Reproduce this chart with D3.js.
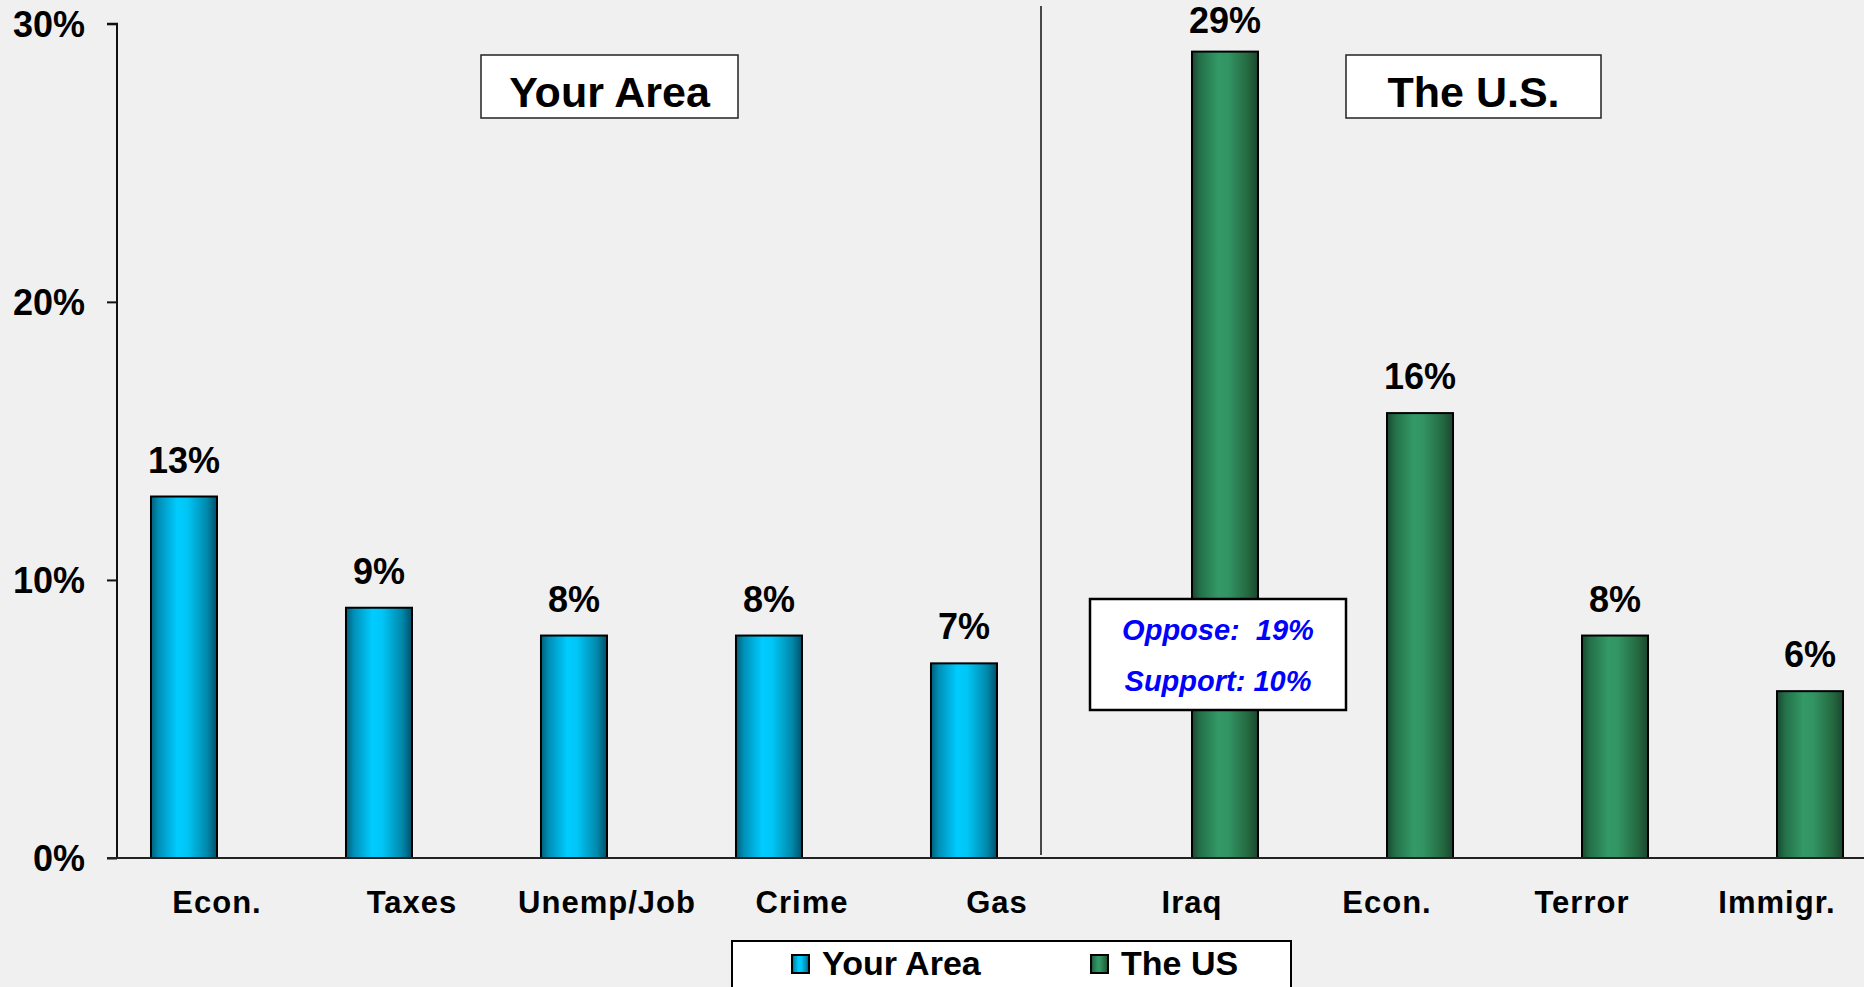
<!DOCTYPE html>
<html>
<head>
<meta charset="utf-8">
<script src="https://cdn.jsdelivr.net/npm/d3@7"></script>
<style>
html,body{margin:0;padding:0;background:#f0f0f0;}
svg{display:block;}
text{font-family:"Liberation Sans",Arial,sans-serif;font-weight:bold;}
</style>
</head>
<body>
<script>
const categories = ["Econ.","Taxes","Unemp/Job","Crime","Gas","Iraq","Econ.","Terror","Immigr."];
const seriesNames = ["Your Area","The US"];
const yourArea = [13,9,8,8,7,null,null,null,null];
const theUS = [null,null,null,null,null,29,16,8,6];
const yTicks = [0,10,20,30];
const panelTitles = ["Your Area","The U.S."];
const calloutLines = ["Oppose:  19%","Support: 10%"];

const W = 1864, H = 987;
const svg = d3.select("body").append("svg").attr("width",W).attr("height",H);
svg.append("rect").attr("width",W).attr("height",H).attr("fill","#f0f0f0");

const defs = svg.append("defs");
function grad(id, stops){
  const g = defs.append("linearGradient").attr("id",id).attr("x1","0").attr("x2","1").attr("y1","0").attr("y2","0");
  stops.forEach(s=>g.append("stop").attr("offset",s[0]).attr("stop-color",s[1]));
}
grad("gCyan",[[0,"#005f78"],[0.12,"#0090b8"],[0.4,"#00ccff"],[0.55,"#00c6f6"],[0.85,"#0088aa"],[1,"#00506a"]]);
grad("gGreen",[[0,"#1a4730"],[0.12,"#237048"],[0.4,"#339966"],[0.55,"#329463"],[0.85,"#24683f"],[1,"#1b4630"]]);
const fills = {"Your Area":"url(#gCyan)","The US":"url(#gGreen)"};

const x0 = d3.scaleBand().domain(d3.range(categories.length)).range([119.5,119.5+categories.length*195]).padding(0);
const x1 = d3.scaleBand().domain(seriesNames).range([0,x0.bandwidth()]).paddingInner(0).paddingOuter(0.477);
const y = d3.scaleLinear().domain([0,30]).range([858,23.8]);

// divider
svg.append("line").attr("x1",1041).attr("x2",1041).attr("y1",6).attr("y2",855)
  .attr("stroke","#111").attr("stroke-width",1.5);

// bars
const data = [];
categories.forEach((c,i)=>{
  if(yourArea[i]!=null) data.push({i,s:"Your Area",v:yourArea[i]});
  if(theUS[i]!=null) data.push({i,s:"The US",v:theUS[i]});
});
svg.selectAll("rect.bar").data(data).enter().append("rect").attr("class","bar")
  .attr("x",d=>x0(d.i)+x1(d.s)).attr("width",x1.bandwidth())
  .attr("y",d=>y(d.v)).attr("height",d=>y(0)-y(d.v))
  .attr("fill",d=>fills[d.s]).attr("stroke","#000").attr("stroke-width",2);

// value labels
svg.selectAll("text.val").data(data).enter().append("text").attr("class","val")
  .attr("x",d=>x0(d.i)+x1(d.s)+x1.bandwidth()/2).attr("y",d=>Math.max(y(d.v)-24,33))
  .attr("text-anchor","middle").attr("font-size",36).attr("fill","#000").text(d=>d.v+"%");

// y axis
const yAxis = d3.axisLeft(y).tickValues(yTicks).tickSize(10).tickPadding(22).tickFormat(d=>d+"%");
const ga = svg.append("g").attr("transform","translate(117,0)").call(yAxis);
ga.select(".domain").attr("stroke","#111").attr("stroke-width",2).attr("d","M-10,"+y(30)+"H0V"+y(0));
ga.selectAll(".tick line").attr("stroke","#111").attr("stroke-width",2);
ga.selectAll(".tick text").attr("font-size",36).attr("fill","#000").attr("dy","0.36em")
  .attr("font-family","Liberation Sans, Arial, sans-serif").attr("font-weight","bold");

// x axis baseline
svg.append("line").attr("x1",107).attr("x2",1864).attr("y1",y(0)).attr("y2",y(0))
  .attr("stroke","#222").attr("stroke-width",2);

// category labels
svg.selectAll("text.cat").data(categories).enter().append("text").attr("class","cat")
  .attr("x",(d,i)=>x0(i)+x0.bandwidth()/2).attr("y",913)
  .attr("text-anchor","middle").attr("font-size",31).attr("letter-spacing",1).attr("fill","#000").text(d=>d);

// panel title boxes
const titleBoxes = [{x:481,w:257,t:panelTitles[0]},{x:1346,w:255,t:panelTitles[1]}];
titleBoxes.forEach(b=>{
  svg.append("rect").attr("x",b.x).attr("y",55).attr("width",b.w).attr("height",63)
    .attr("fill","#fff").attr("stroke","#222").attr("stroke-width",1.5);
  svg.append("text").attr("x",b.x+b.w/2).attr("y",107).attr("text-anchor","middle")
    .attr("font-size",43).attr("fill","#000").text(b.t);
});

// callout
svg.append("rect").attr("x",1090).attr("y",599).attr("width",256).attr("height",111)
  .attr("fill","#fff").attr("stroke","#000").attr("stroke-width",2.5);
calloutLines.forEach((t,k)=>{
  svg.append("text").attr("x",1218).attr("y",640+k*51).attr("text-anchor","middle")
    .attr("font-size",29).attr("font-style","italic").attr("fill","#0000ff")
    .attr("xml:space","preserve").style("white-space","pre").text(t);
});

// legend
svg.append("rect").attr("x",732).attr("y",941).attr("width",559).attr("height",60)
  .attr("fill","#fff").attr("stroke","#000").attr("stroke-width",2);
const legX = [792,1091];
seriesNames.forEach((s,k)=>{
  svg.append("rect").attr("x",legX[k]).attr("y",955).attr("width",17).attr("height",18)
    .attr("fill",fills[s]).attr("stroke","#000").attr("stroke-width",2);
  svg.append("text").attr("x",legX[k]+30).attr("y",975).attr("font-size",34).attr("fill","#000").text(s);
});
</script>
</body>
</html>
